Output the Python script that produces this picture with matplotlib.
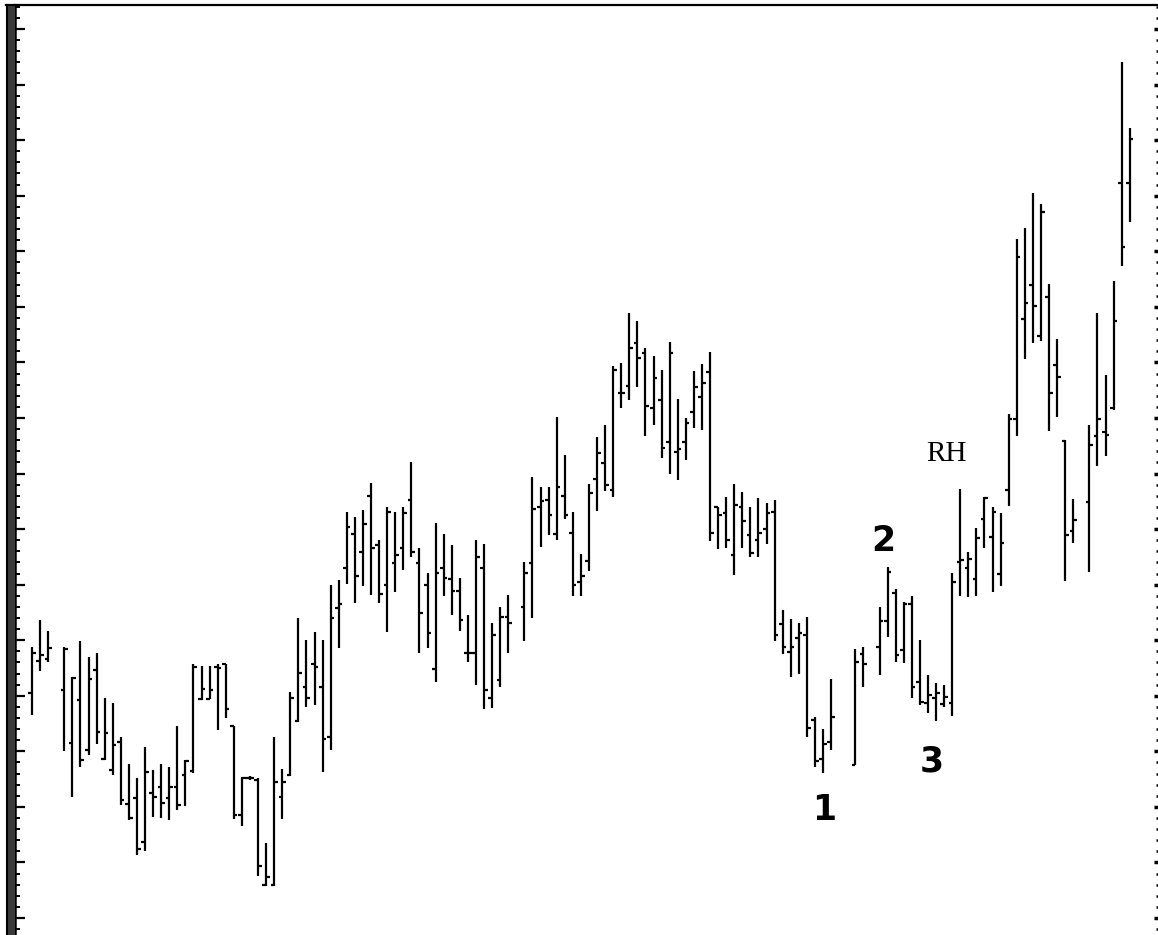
import matplotlib
matplotlib.use("Agg")
import matplotlib.pyplot as plt
import numpy as np
from matplotlib.lines import Line2D
from matplotlib.patches import Rectangle

W, H = 1158, 935

# daily bars, heights in chart units above the bottom edge; None = no bar
high = [
    288, 315, 304, None, 288, 258, 294, 278, 282, 237,
    232, 198, 171, 157, 188, 165, 171, 168, 209, 175,
    271, 269, 269, 271, 271, 209, 158, 159, 157, 92,
    198, 166, 243, 317, 295, 303, 295, 350, 355, 423,
    418, 425, 452, 395, 428, 423, 428, 473, 387, 362,
    412, 401, 390, 357, 320, 395, 391, 312, 328, 340,
    None, 373, 458, 448, 448, 518, 480, 423, 381, 451,
    498, 510, 569, 572, 622, 614, 587, 579, 565, 593,
    536, 517, 564, 571, 583, 428, 438, 451, 443, 428,
    437, 432, 435, 325, 316, 312, 318, 218, 206, 256,
    None, None, 286, 288, None, 328, 368, 346, 333, 339,
    295, 260, 252, 250, 362, 446, 383, 407, 438, 428,
    422, 521, 696, 707, 742, 731, 651, 596, 495, 436,
    None, 510, 622, 560, 654, 873, 807,
]
low = [
    220, 264, 273, None, 184, 138, 168, 180, 191, 175,
    160, 130, 115, 80, 84, 118, 117, 115, 125, 129,
    162, 235, 236, 205, 217, 116, 109, 155, 59, 49,
    49, 116, 159, 213, 228, 230, 163, 185, 287, 351,
    332, 349, 340, 332, 303, 343, 365, 378, 282, 287,
    253, 339, 320, 304, 273, 250, 226, 227, 248, 282,
    None, 294, 317, 388, 400, 395, 416, 339, 339, 364,
    424, 444, 438, 527, 535, 548, 499, 510, 477, 461,
    455, 475, 507, 505, 394, 386, 387, 360, 387, 378,
    378, 391, 294, 281, 258, 261, 198, 168, 162, 185,
    None, None, 170, 248, None, 260, 298, 273, 272, 237,
    230, 222, 214, 228, 219, 339, 338, 339, 387, 343,
    349, 429, 499, 576, 592, 594, 504, 518, 354, 392,
    None, 363, 469, 479, 525, 669, 713,
]
opens = [
    242, 274, 276, None, 245, 192, 235, 185, 265, 176,
    165, 193, 131, 137, 93, 142, 148, 137, 148, 160,
    164, 236, 236, 268, 271, 209, 120, 157, 155, 50,
    50, 138, 160, 214, 248, 271, 248, 198, 327, 367,
    401, 383, 439, 390, 350, 372, 387, 435, 372, 350,
    266, 367, 356, 344, 282, 282, 367, 237, 255, 318,
    None, 328, 372, 428, 435, 401, 439, 402, 353, 374,
    456, 472, 445, 542, 549, 592, 582, 527, 535, 493,
    483, 493, 523, 538, 563, 428, 422, 380, 428, 400,
    395, 406, 423, 311, 283, 297, 300, 215, 176, 193,
    None, None, 170, 281, None, 288, 314, 342, 285, 331,
    253, 232, 237, 231, 232, 373, 367, 356, 416, 398,
    361, 445, 516, 616, 650, 599, 638, 570, 494, 404,
    None, 433, 499, 503, 527, 752, 752,
]
closes = [
    282, 280, 287, None, 286, 257, 175, 256, 203, 202,
    190, 135, 117, 86, 163, 138, 132, 148, 130, 174,
    268, 246, 245, 267, 226, 120, 157, 157, 69, 58,
    153, 153, 237, 262, 237, 268, 196, 317, 331, 408,
    359, 411, 387, 341, 423, 380, 422, 383, 322, 302,
    362, 357, 344, 315, 282, 378, 245, 300, 318, 312,
    None, 362, 426, 434, 420, 448, 420, 350, 359, 442,
    482, 450, 565, 542, 587, 577, 529, 557, 487, 582,
    486, 512, 548, 552, 402, 420, 395, 430, 414, 382,
    402, 422, 300, 288, 288, 302, 207, 174, 191, 218,
    None, None, 273, 271, None, 314, 363, 280, 331, 248,
    233, 240, 242, 238, 353, 375, 376, 397, 437, 423,
    392, 516, 678, 632, 629, 723, 542, 558, 400, 415,
    None, 490, 516, 500, 614, 688, 796,
]

# wave count labels
wave_labels = ["1", "2", "3"]
wave_x = [98.2, 105.5, 111.5]
wave_y = [125, 394, 173]
rh_label = "RH"
rh_x, rh_y = 113.3, 481

hi = np.array(high, dtype=float)
lo = np.array(low, dtype=float)
op = np.array(opens, dtype=float)
cl = np.array(closes, dtype=float)
x = np.arange(len(hi), dtype=float)
ok = ~np.isnan(hi)

fig = plt.figure(figsize=(W / 100, H / 100), dpi=100)
ax = fig.add_axes([15 / W, 0, 1 - 15 / W, 930 / H])

lw = 1.6
ax.vlines(x[ok], lo[ok], hi[ok], color="black", lw=lw)
ax.hlines(op[ok], x[ok] - 0.45, x[ok], color="black", lw=lw)
ax.hlines(cl[ok], x[ok], x[ok] + 0.45, color="black", lw=lw)

major = np.arange(17, 930, 55.56)
minor = np.arange(5.9, 930, 11.112)
ax.set_yticks(major)
ax.set_yticks(minor, minor=True)
ax.set_yticklabels([])
ax.set_xticks([])
# limits after the ticks so set_yticks can't stretch them
ax.set_xlim(-2.11, 139.5)
ax.set_ylim(0, 930)
ax.tick_params(axis="y", which="major", direction="in", length=7, width=1.6,
               left=True, right=False)
ax.tick_params(axis="y", which="minor", direction="in", length=3.5, width=1.4,
               left=True, right=False)

for s in ["right", "bottom"]:
    ax.spines[s].set_visible(False)
ax.spines["top"].set_linewidth(1.6)
ax.spines["left"].set_linewidth(1.8)

# right-hand scale marks
axr = ax.twinx()
axr.set_yticks(major)
axr.set_yticks(minor, minor=True)
axr.set_yticklabels([])
axr.set_ylim(0, 930)
axr.tick_params(axis="y", which="major", direction="in", length=3, width=2.5)
axr.tick_params(axis="y", which="minor", direction="in", length=1.5, width=1.8)
for s in axr.spines.values():
    s.set_visible(False)

# scanned double rule on the left edge
fig.add_artist(Rectangle((6 / W, 0), 9 / W, 930 / H, transform=fig.transFigure,
                         facecolor="#3a3a3a", edgecolor="none"))
fig.add_artist(Line2D([7 / W, 7 / W], [0, 930 / H], transform=fig.transFigure,
                      color="black", lw=1.5))
fig.add_artist(Line2D([6 / W, 15 / W], [930 / H, 930 / H], transform=fig.transFigure,
                      color="black", lw=1.6))

for lab, lx, ly in zip(wave_labels, wave_x, wave_y):
    ax.text(lx, ly, lab, ha="center", va="center", fontsize=25, fontweight="bold",
            family=["Liberation Sans Narrow", "DejaVu Sans"], color="black")
ax.text(rh_x, rh_y, rh_label, ha="center", va="center", fontsize=21,
        family=["Liberation Serif", "DejaVu Serif"], color="black")

fig.savefig("out.png", dpi=100)
